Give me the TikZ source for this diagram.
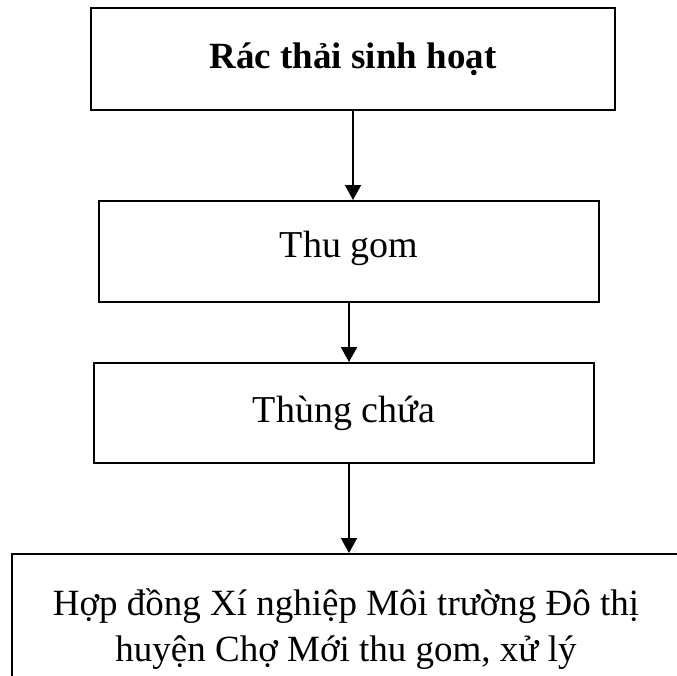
\documentclass[tikz,border=0pt]{standalone}
\usepackage{fontspec}
\setmainfont{Liberation Serif}
\usetikzlibrary{arrows.meta,calc}
\begin{document}
\begin{tikzpicture}[x=1pt,y=-1pt,
  box/.style={draw=black,line width=2pt,rectangle,align=center,font=\fontsize{38}{46}\selectfont,inner sep=0pt},
  label/.style={align=center,font=\fontsize{37}{46}\selectfont,inner sep=0pt},
  arr/.style={draw=black,line width=2pt,-{Triangle[length=15pt,width=16pt]}}]
\useasboundingbox (0,0) rectangle (677,675);
\clip (0,0) rectangle (677,675);
% process boxes
\node[box,minimum width=524pt,minimum height=102pt,font=\fontsize{37}{46}\selectfont\bfseries] (b1) at (353,59) {Rác thải sinh hoạt};
\node[box,minimum width=500pt,minimum height=101pt,text depth=14pt] (b2) at (349,251.5) {Thu gom};
\node[box,minimum width=500pt,minimum height=100pt] (b3) at (344,413) {Thùng chứa};
% last box runs past the right and bottom edges
\node[box,anchor=north west,minimum width=700pt,minimum height=160pt] (b4) at (11,553) {};
\node[label] (b4text) at (346,629) {Hợp đồng Xí nghiệp Môi trường Đô thị\\huyện Chợ Mới thu gom, xử lý};
% connectors
\draw[arr] (b1.south) -- (b1.south |- b2.north);
\draw[arr] (b2.south) -- (b2.south |- b3.north);
\draw[arr] (b2.south |- b3.south) -- (b2.south |- b4.north);
\end{tikzpicture}
\end{document}
